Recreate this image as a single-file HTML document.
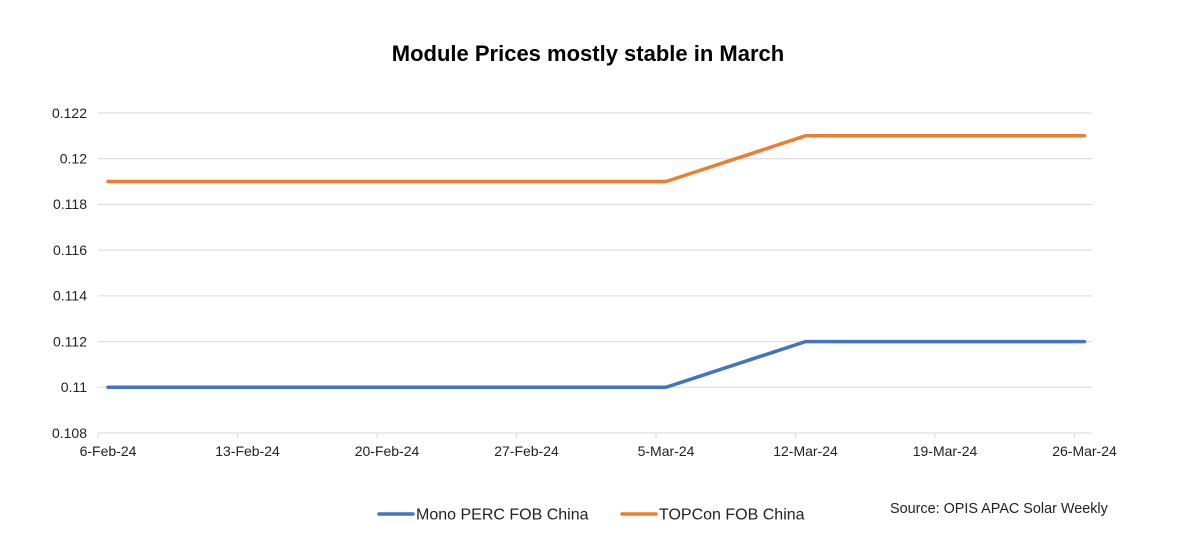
<!DOCTYPE html>
<html><head><style>body{margin:0;background:#fff}</style></head><body>
<svg width="1200" height="542" xmlns="http://www.w3.org/2000/svg" font-family="Liberation Sans, Arial, sans-serif">
<rect width="1200" height="542" fill="#fff"/>
<text x="588" y="61" text-anchor="middle" font-size="22" font-weight="bold" fill="#000">Module Prices mostly stable in March</text>
<g stroke="#d9d9d9" stroke-width="1">
<line x1="98" x2="1092" y1="113" y2="113"/>
<line x1="98" x2="1092" y1="158.7" y2="158.7"/>
<line x1="98" x2="1092" y1="204.4" y2="204.4"/>
<line x1="98" x2="1092" y1="250.1" y2="250.1"/>
<line x1="98" x2="1092" y1="295.9" y2="295.9"/>
<line x1="98" x2="1092" y1="341.6" y2="341.6"/>
<line x1="98" x2="1092" y1="387.3" y2="387.3"/>
<line x1="98" x2="1092" y1="433" y2="433"/>
<line x1="98" x2="98" y1="433" y2="438"/><line x1="237.5" x2="237.5" y1="433" y2="438"/><line x1="377" x2="377" y1="433" y2="438"/><line x1="516.5" x2="516.5" y1="433" y2="438"/><line x1="656" x2="656" y1="433" y2="438"/><line x1="795.5" x2="795.5" y1="433" y2="438"/><line x1="935" x2="935" y1="433" y2="438"/><line x1="1074.5" x2="1074.5" y1="433" y2="438"/>
</g>
<g font-size="14" fill="#222" text-anchor="end">
<text x="87" y="118">0.122</text><text x="87" y="163.5">0.12</text><text x="87" y="209">0.118</text><text x="87" y="255">0.116</text><text x="87" y="300.5">0.114</text><text x="87" y="346.5">0.112</text><text x="87" y="392">0.11</text><text x="87" y="438">0.108</text>
</g>
<g font-size="14" fill="#222" text-anchor="middle">
<text x="108" y="456">6-Feb-24</text><text x="247.5" y="456">13-Feb-24</text><text x="387" y="456">20-Feb-24</text><text x="526.5" y="456">27-Feb-24</text><text x="666" y="456">5-Mar-24</text><text x="805.5" y="456">12-Mar-24</text><text x="945" y="456">19-Mar-24</text><text x="1084.5" y="456">26-Mar-24</text>
</g>
<polyline fill="none" stroke="#ed7d31" stroke-width="3.5" stroke-linecap="round" points="108,181.5 666,181.5 805.5,135.8 1084.5,135.8"/>
<polyline fill="none" stroke="#4472c4" stroke-width="3.5" stroke-linecap="round" points="108,387.3 666,387.3 805.5,341.6 1084.5,341.6"/>
<line x1="379" x2="413" y1="514" y2="514" stroke="#4472c4" stroke-width="3.5" stroke-linecap="round"/>
<text x="416" y="519.5" font-size="16" fill="#222">Mono PERC FOB China</text>
<line x1="622" x2="656" y1="514" y2="514" stroke="#ed7d31" stroke-width="3.5" stroke-linecap="round"/>
<text x="659" y="519.5" font-size="16" fill="#222">TOPCon FOB China</text>
<text x="890" y="513" font-size="14.4" fill="#222">Source: OPIS APAC Solar Weekly</text>
</svg>
</body></html>
